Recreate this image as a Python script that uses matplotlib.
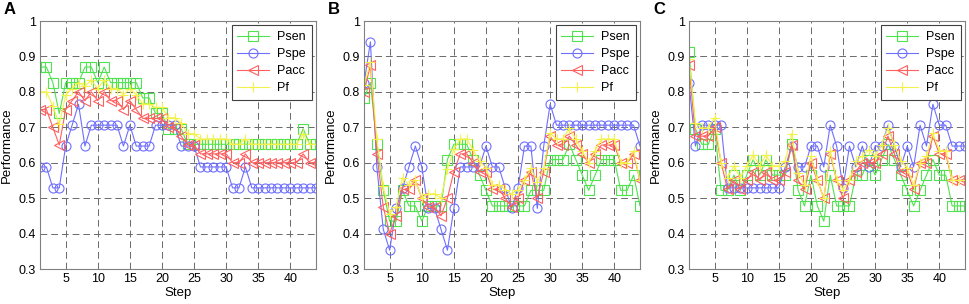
import numpy as np
import matplotlib
matplotlib.use("Agg")
import matplotlib.pyplot as plt

plt.rcParams['font.family'] = ['Liberation Sans', 'DejaVu Sans']

steps = list(range(1, 45))

# panel A
a_sen = [0.870, 0.870, 0.826, 0.739, 0.826, 0.826, 0.826, 0.870, 0.870, 0.826,
         0.870, 0.826, 0.826, 0.826, 0.826, 0.826, 0.783, 0.783, 0.739, 0.739,
         0.696, 0.696, 0.696, 0.652, 0.652, 0.652, 0.652, 0.652, 0.652, 0.652,
         0.652, 0.652, 0.652, 0.652, 0.652, 0.652, 0.652, 0.652, 0.652, 0.652,
         0.652, 0.696, 0.652, 0.652]
a_spe = [0.588, 0.588, 0.529, 0.529, 0.647, 0.706, 0.765, 0.647, 0.706, 0.706,
         0.706, 0.706, 0.706, 0.647, 0.706, 0.647, 0.647, 0.647, 0.706, 0.706,
         0.706, 0.706, 0.647, 0.647, 0.647, 0.588, 0.588, 0.588, 0.588, 0.588,
         0.529, 0.529, 0.588, 0.529, 0.529, 0.529, 0.529, 0.529, 0.529, 0.529,
         0.529, 0.529, 0.529, 0.529]
a_acc = [0.750, 0.750, 0.700, 0.650, 0.750, 0.775, 0.800, 0.775, 0.800, 0.775,
         0.800, 0.775, 0.775, 0.750, 0.775, 0.750, 0.725, 0.725, 0.725, 0.725,
         0.700, 0.700, 0.675, 0.650, 0.650, 0.625, 0.625, 0.625, 0.625, 0.625,
         0.600, 0.600, 0.625, 0.600, 0.600, 0.600, 0.600, 0.600, 0.600, 0.600,
         0.600, 0.625, 0.600, 0.600]
a_f = [0.800, 0.800, 0.760, 0.708, 0.792, 0.809, 0.826, 0.816, 0.833, 0.809,
       0.833, 0.809, 0.809, 0.792, 0.809, 0.792, 0.766, 0.766, 0.756, 0.756,
       0.727, 0.727, 0.711, 0.682, 0.682, 0.667, 0.667, 0.667, 0.667, 0.667,
       0.652, 0.652, 0.667, 0.652, 0.652, 0.652, 0.652, 0.652, 0.652, 0.652,
       0.652, 0.681, 0.652, 0.652]

# panel B
b_sen = [0.783, 0.826, 0.652, 0.522, 0.435, 0.435, 0.522, 0.478, 0.478, 0.435,
         0.478, 0.478, 0.478, 0.609, 0.652, 0.652, 0.652, 0.609, 0.565, 0.522,
         0.478, 0.478, 0.478, 0.478, 0.478, 0.478, 0.522, 0.522, 0.522, 0.609,
         0.609, 0.609, 0.652, 0.609, 0.565, 0.522, 0.565, 0.609, 0.609, 0.609,
         0.522, 0.522, 0.565, 0.478]
b_spe = [0.824, 0.941, 0.588, 0.412, 0.353, 0.471, 0.529, 0.588, 0.647, 0.588,
         0.471, 0.471, 0.412, 0.353, 0.471, 0.588, 0.588, 0.588, 0.588, 0.647,
         0.588, 0.588, 0.529, 0.471, 0.529, 0.647, 0.647, 0.471, 0.647, 0.765,
         0.706, 0.706, 0.706, 0.706, 0.706, 0.706, 0.706, 0.706, 0.706, 0.706,
         0.706, 0.706, 0.706, 0.647]
b_acc = [0.800, 0.875, 0.625, 0.475, 0.400, 0.450, 0.525, 0.525, 0.550, 0.500,
         0.475, 0.475, 0.450, 0.500, 0.575, 0.625, 0.625, 0.600, 0.575, 0.575,
         0.525, 0.525, 0.500, 0.475, 0.500, 0.550, 0.575, 0.500, 0.575, 0.675,
         0.650, 0.650, 0.675, 0.650, 0.625, 0.600, 0.625, 0.650, 0.650, 0.650,
         0.600, 0.600, 0.625, 0.550]
b_f = [0.818, 0.884, 0.667, 0.533, 0.455, 0.476, 0.558, 0.537, 0.550, 0.500,
       0.512, 0.512, 0.500, 0.583, 0.638, 0.667, 0.667, 0.636, 0.605, 0.585,
       0.537, 0.537, 0.524, 0.512, 0.524, 0.550, 0.585, 0.545, 0.585, 0.683,
       0.667, 0.667, 0.698, 0.667, 0.634, 0.600, 0.634, 0.667, 0.667, 0.667,
       0.600, 0.600, 0.634, 0.550]

# panel C
c_sen = [0.913, 0.696, 0.652, 0.652, 0.696, 0.522, 0.522, 0.565, 0.522, 0.565,
         0.609, 0.565, 0.609, 0.565, 0.565, 0.565, 0.652, 0.522, 0.478, 0.565,
         0.478, 0.435, 0.565, 0.478, 0.478, 0.478, 0.565, 0.565, 0.609, 0.565,
         0.609, 0.652, 0.609, 0.565, 0.522, 0.478, 0.522, 0.565, 0.609, 0.565,
         0.565, 0.478, 0.478, 0.478]
c_spe = [0.824, 0.647, 0.706, 0.706, 0.706, 0.706, 0.529, 0.529, 0.529, 0.529,
         0.529, 0.529, 0.529, 0.529, 0.529, 0.588, 0.647, 0.588, 0.588, 0.647,
         0.647, 0.588, 0.706, 0.647, 0.529, 0.647, 0.588, 0.647, 0.588, 0.647,
         0.647, 0.706, 0.647, 0.588, 0.647, 0.588, 0.706, 0.647, 0.765, 0.706,
         0.706, 0.647, 0.647, 0.647]
c_acc = [0.875, 0.675, 0.675, 0.675, 0.700, 0.600, 0.525, 0.550, 0.525, 0.550,
         0.575, 0.550, 0.575, 0.550, 0.550, 0.575, 0.650, 0.550, 0.525, 0.600,
         0.550, 0.500, 0.625, 0.550, 0.500, 0.550, 0.575, 0.600, 0.600, 0.600,
         0.625, 0.675, 0.625, 0.575, 0.575, 0.525, 0.600, 0.600, 0.675, 0.625,
         0.625, 0.550, 0.550, 0.550]
c_f = [0.894, 0.711, 0.698, 0.698, 0.727, 0.600, 0.558, 0.591, 0.558, 0.591,
       0.622, 0.591, 0.622, 0.591, 0.591, 0.605, 0.682, 0.571, 0.537, 0.619,
       0.550, 0.500, 0.634, 0.550, 0.524, 0.550, 0.605, 0.619, 0.636, 0.619,
       0.651, 0.698, 0.651, 0.605, 0.585, 0.537, 0.600, 0.619, 0.683, 0.634,
       0.634, 0.550, 0.550, 0.550]

panels = [("A", a_sen, a_spe, a_acc, a_f),
          ("B", b_sen, b_spe, b_acc, b_f),
          ("C", c_sen, c_spe, c_acc, c_f)]

names = ["Psen", "Pspe", "Pacc", "Pf"]
colors = ["#4fe34f", "#6f6fff", "#ff5f5f", "#f2f24a"]
markers = ["s", "o", "<", "+"]
msizes = [6.5, 6.5, 7, 6.5]

W, H = 969, 304
fig = plt.figure(figsize=(W / 100, H / 100), dpi=100)

lefts = [40, 364, 689]
for (tag, sen, spe, acc, f), lx in zip(panels, lefts):
    ax = fig.add_axes([lx / W, 35 / H, 276 / W, 248 / H])
    for vals, name, c, m, ms in zip([sen, spe, acc, f], names, colors, markers, msizes):
        ax.plot(steps, vals, color=c, marker=m, markersize=ms, markerfacecolor="none",
                markeredgecolor=c, markeredgewidth=0.8, linewidth=0.8, label=name)
    ax.set_xlim(1, 44)
    ax.set_ylim(0.3, 1)
    ax.set_xticks([5, 10, 15, 20, 25, 30, 35, 40])
    ax.set_yticks([0.3, 0.4, 0.5, 0.6, 0.7, 0.8, 0.9, 1.0])
    ax.set_yticklabels(["0.3", "0.4", "0.5", "0.6", "0.7", "0.8", "0.9", "1"])
    ax.tick_params(labelsize=9, length=0, pad=3)
    ax.grid(True, color="#6a6a6a", linestyle=(0, (7, 4)), linewidth=0.7)
    for s in ax.spines.values():
        s.set_color("#808080")
        s.set_linewidth(0.8)
    ax.set_xlabel("Step", fontsize=9.5, labelpad=1)
    ax.set_ylabel("Performance", fontsize=9.5, labelpad=4)
    leg = ax.legend(loc="upper right", fontsize=9, handlelength=2.5, borderaxespad=0.35,
                    labelspacing=0.4, fancybox=False, framealpha=1, borderpad=0.45,
                    handletextpad=0.7)
    leg.get_frame().set_edgecolor("#404040")
    leg.get_frame().set_linewidth(0.8)
    fig.text((lx - 36) / W, 1 - 10 / H, tag, fontsize=12, fontweight="bold",
             va="center", ha="left")

fig.savefig("out.png", dpi=100)
